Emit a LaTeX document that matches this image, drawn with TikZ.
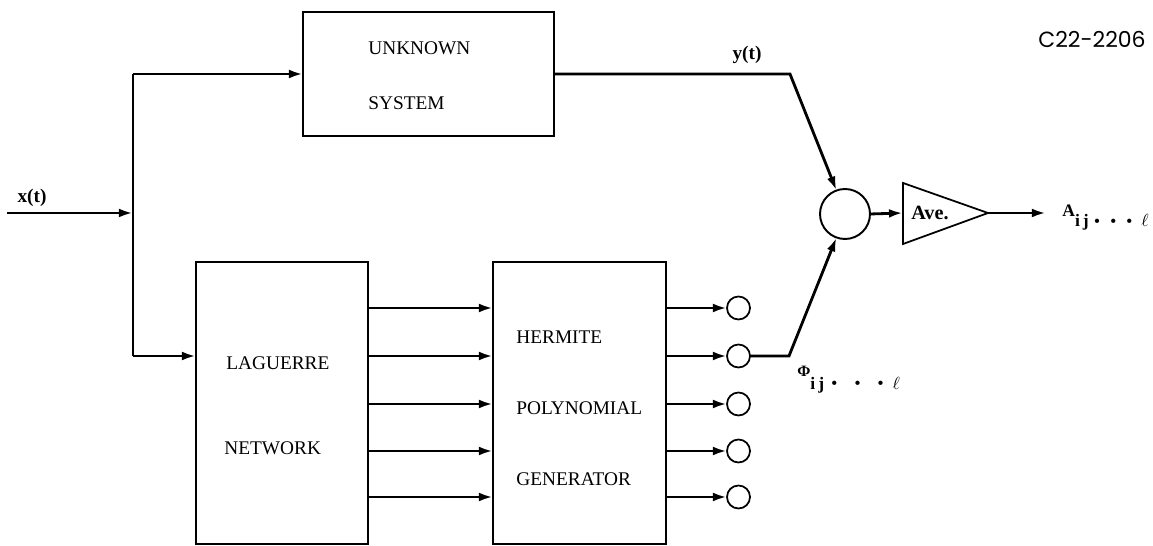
\documentclass[tikz,border=0pt]{standalone}
\usepackage{fontspec}
\setmainfont{Liberation Serif}
\newfontfamily\codefont{Poppins}
\usetikzlibrary{arrows.meta,calc}
\newcommand{\sdot}{\raisebox{2pt}{\fontsize{5}{5}\selectfont$\bullet$}}
\begin{document}
\begin{tikzpicture}[x=0.02cm,y=-0.02cm,
  sig/.style={line width=1.6pt},
  arr/.style={sig,-{Latex[length=8pt,width=5pt]}},
  blk/.style={draw,line width=1pt,inner sep=0pt,outer sep=0pt},
  lbl/.style={font=\fontsize{11}{13}\selectfont,inner sep=0pt,anchor=west},
  siglabel/.style={font=\fontsize{11}{13}\selectfont\bfseries,inner sep=0pt},
  port/.style={circle,draw,line width=1pt,minimum size=0.46cm,inner sep=0pt,outer sep=0pt},
]
\useasboundingbox (0,0) rectangle (1153,546);

% blocks
\node[blk,minimum width=5.02cm,minimum height=2.48cm] (unk) at (428.5,74) {};
\node[lbl] (unkA) at (368,48.5) {UNKNOWN};
\node[lbl] (unkB) at (368,103.5) {SYSTEM};

\node[blk,minimum width=3.44cm,minimum height=5.64cm] (lag) at (282,403) {};
\node[lbl] (lagA) at (226,363) {LAGUERRE};
\node[lbl] (lagB) at (224,448) {NETWORK};

\node[blk,minimum width=3.46cm,minimum height=5.64cm] (her) at (579.5,403) {};
\node[lbl] (herA) at (516,337) {HERMITE};
\node[lbl] (herB) at (516,408.5) {POLYNOMIAL};
\node[lbl] (herC) at (516,479.5) {GENERATOR};

% output ports
\foreach \i/\y in {1/308,2/356,3/404,4/451,5/497}{
  \node[port] (p\i) at (738.5,\y) {};
  \draw[arr] (lag.east |- p\i) -- (her.west |- p\i);
  \draw[arr] (her.east |- p\i) -- (p\i.west);
}

% summing junction and averager
\node[circle,draw,line width=1.1pt,minimum size=1cm,inner sep=0pt,outer sep=0pt] (sum) at (845,214) {};
\coordinate (avein) at (903,213);
\coordinate (aveout) at (988,213);
\draw[line width=1pt] (903,183) -- (aveout) -- (903,244) -- cycle;
\node[font=\fontsize{11.5}{13}\selectfont\bfseries,inner sep=0pt] (ave) at (930,213) {Ave.};

% input distribution
\coordinate (xin) at (7,213);
\coordinate (jn) at (133,213);
\coordinate (jt) at (133,74);
\coordinate (jb) at (133,356);
\draw[arr] (xin) -- (jn);
\draw[sig] (jt) -- (jb);
\draw[arr] (jt) -- (unk.west);
\draw[arr] (jb) -- (lag.west |- jb);

% to the summing junction
\coordinate (yc) at (790,74);
\draw[arr] (unk.east) -- (yc) -- (sum.110);
\coordinate (pc) at (789,356);
\draw[arr] (p2.east) -- (pc) -- (sum.-110);
\draw[arr] (sum.east) -- (avein);
\coordinate (aout) at (1046,213);
\draw[arr] (aveout) -- (aout);

% labels
\node[siglabel] (xl) at (32,198) {x(t)};
\node[siglabel] (yl) at (747,55) {y(t)};
\node[font=\codefont\fontsize{12.5}{14}\selectfont,inner sep=0pt] (code) at (1092,39) {C22-2206};
\node[anchor=base west,inner sep=0pt,font=\fontsize{10}{12}\selectfont] (al) at (1062,217)
  {\textbf{A}\raisebox{-5.5pt}{\textbf{i\,j}\hspace{3pt}\sdot\hspace{5.5pt}\sdot\hspace{5.5pt}\sdot\hspace{5pt}$\ell$}};
\node[anchor=base west,inner sep=0pt,font=\fontsize{10}{12}\selectfont] (pl) at (797,377)
  {{\fontsize{9}{11}\selectfont\textbf{Φ}}\raisebox{-7pt}{\textbf{i\,j}\hspace{4pt}\sdot\hspace{9.5pt}\sdot\hspace{9.5pt}\sdot\hspace{5pt}$\ell$}};
\end{tikzpicture}
\end{document}
